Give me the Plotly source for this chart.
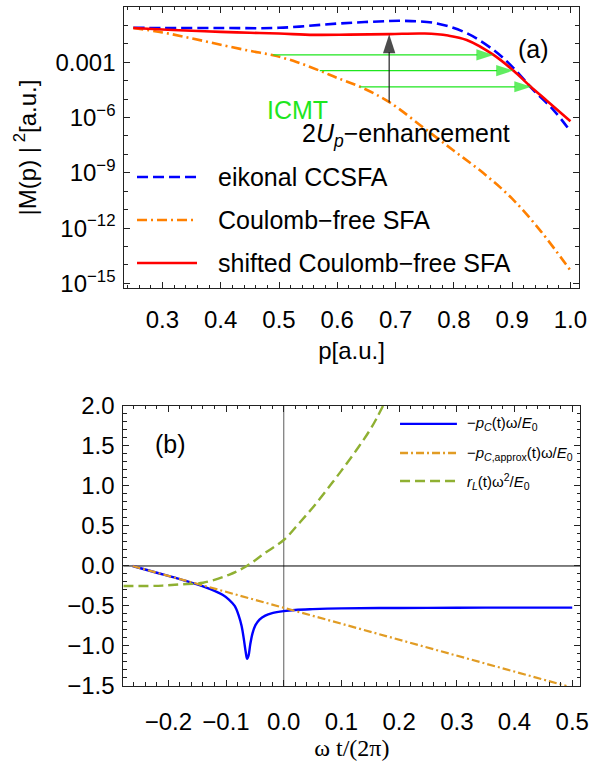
import plotly.graph_objects as go

# ---------------- Panel (a) data : p [a.u.] vs log10 |M(p)|^2 ----------------
p_eik = [0.25, 0.30, 0.40, 0.50, 0.60, 0.66, 0.713, 0.771, 0.822, 0.868, 0.902, 0.936, 0.971, 1.0]
lg_eik = [-1.13, -1.14, -1.14, -1.13, -0.90, -0.80, -0.75, -0.89, -1.42, -2.33, -3.30, -4.50, -5.59, -6.75]

p_sfa = [0.25, 0.30, 0.35, 0.40, 0.45, 0.49, 0.53, 0.57, 0.60, 0.64, 0.69, 0.75, 0.80, 0.85, 0.90, 0.95, 1.0]
lg_sfa = [-1.14, -1.38, -1.70, -2.05, -2.38, -2.62, -2.98, -3.46, -3.85, -4.34, -5.18, -6.60, -7.80, -9.00, -10.40, -12.20, -14.30]

p_shift = [0.25, 0.30, 0.35, 0.40, 0.45, 0.50, 0.56, 0.62, 0.69, 0.75, 0.79, 0.822, 0.868, 0.902, 0.931, 0.960, 1.0]
lg_shift = [-1.14, -1.22, -1.29, -1.35, -1.40, -1.44, -1.51, -1.50, -1.47, -1.44, -1.55, -1.79, -2.60, -3.45, -4.30, -5.10, -6.20]

# ICMT arrows (from Coulomb-free SFA to shifted SFA) and 2Up enhancement arrow
icmt_tail_p = [0.490, 0.570, 0.639]
icmt_tip_p = [0.868, 0.902, 0.933]
icmt_level = [-2.60, -3.45, -4.33]
enh_p = 0.689
enh_from = -5.18
enh_to = -1.48

ya_tickvals = [1, 1e-3, 1e-6, 1e-9, 1e-12, 1e-15]
ya_ticktext = ["1", "0.001", "10<sup>−6</sup>", "10<sup>−9</sup>", "10<sup>−12</sup>", "10<sup>−15</sup>"]
ya_minor = [10.0 ** (-k) for k in range(0, 16)]

# ---------------- Panel (b) data : omega t / (2 pi) ----------------
t_pc = [-0.262, -0.22, -0.18, -0.15, -0.12, -0.106, -0.095, -0.085, -0.078, -0.073, -0.069,
        -0.066, -0.0635, -0.061, -0.058, -0.054, -0.049, -0.042, -0.032, -0.02, 0.0, 0.02,
        0.05, 0.1, 0.2, 0.3, 0.4, 0.5]
pc = [0.0, -0.085, -0.165, -0.23, -0.31, -0.36, -0.42, -0.50, -0.62, -0.75, -0.92,
      -1.07, -1.16, -1.12, -0.98, -0.84, -0.74, -0.67, -0.62, -0.59, -0.565, -0.55,
      -0.54, -0.53, -0.525, -0.522, -0.52, -0.52]

t_approx = [-0.262, 0.0, 0.25, 0.49]
pc_approx = [0.0, -0.52, -1.02, -1.50]

t_rl = [-0.278, -0.24, -0.21, -0.18, -0.14, -0.095, -0.064, -0.033, 0.0, 0.0286, 0.056, 0.084, 0.107, 0.13, 0.152, 0.172]
rl = [-0.25, -0.25, -0.245, -0.23, -0.21, -0.11, 0.0, 0.16, 0.325, 0.55, 0.78, 1.04, 1.26, 1.49, 1.73, 2.0]

BLUE = "#0000ff"
RED = "#ff0000"
ORANGE = "#ff8000"
GREEN = "#1ee61e"
B_BLUE = "#0000ff"
B_ORANGE = "#e19c24"
B_GREEN = "#8fb032"
FONT = "Liberation Sans"

fig = go.Figure()

# panel (a)
fig.add_trace(go.Scatter(x=p_eik, y=[10 ** v for v in lg_eik], mode="lines", line_shape="spline",
                         line=dict(color=BLUE, width=2.6, dash="11px,5px"), name="eikonal CCSFA",
                         xaxis="x", yaxis="y"))
fig.add_trace(go.Scatter(x=p_sfa, y=[10 ** v for v in lg_sfa], mode="lines", line_shape="spline",
                         line=dict(color=ORANGE, width=2.6, dash="10px,4px,2px,4px"), name="Coulomb−free SFA",
                         xaxis="x", yaxis="y"))
fig.add_trace(go.Scatter(x=p_shift, y=[10 ** v for v in lg_shift], mode="lines", line_shape="spline",
                         line=dict(color=RED, width=2.6), name="shifted Coulomb−free SFA",
                         xaxis="x", yaxis="y"))
for a, b, lv in zip(icmt_tail_p, icmt_tip_p, icmt_level):
    fig.add_trace(go.Scatter(x=[a, b], y=[10 ** lv, 10 ** lv], mode="lines+markers",
                             line=dict(color=GREEN, width=1.2),
                             marker=dict(symbol=["circle", "arrow"], size=[0, 18], angleref="previous",
                                         color=GREEN, line=dict(width=0)),
                             xaxis="x", yaxis="y", hoverinfo="skip"))
fig.add_trace(go.Scatter(x=[enh_p, enh_p], y=[10 ** enh_from, 10 ** enh_to], mode="lines+markers",
                         line=dict(color="#222222", width=1.2),
                         marker=dict(symbol=["circle", "arrow"], size=[0, 20], angleref="previous",
                                     color="#000000", line=dict(width=0)),
                         xaxis="x", yaxis="y", hoverinfo="skip"))

# panel (b)
fig.add_trace(go.Scatter(x=t_pc, y=pc, mode="lines", line_shape="spline",
                         line=dict(color=B_BLUE, width=2.4), xaxis="x2", yaxis="y2"))
fig.add_trace(go.Scatter(x=t_approx, y=pc_approx, mode="lines",
                         line=dict(color=B_ORANGE, width=2.2, dash="8px,3px,2px,3px"), xaxis="x2", yaxis="y2"))
fig.add_trace(go.Scatter(x=t_rl, y=rl, mode="lines", line_shape="spline",
                         line=dict(color=B_GREEN, width=2.4, dash="10px,5px"), xaxis="x2", yaxis="y2"))

tickfont = dict(family=FONT, size=24, color="black")
common = dict(showline=True, linecolor="#222", linewidth=1, mirror="allticks", ticks="inside",
              tickcolor="#222", ticklen=6, showgrid=False, zeroline=False, tickfont=tickfont,
              automargin=False)

fig.update_layout(
    width=606, height=765, margin=dict(l=0, r=0, t=0, b=0, autoexpand=False), showlegend=False,
    paper_bgcolor="white", plot_bgcolor="white",
    xaxis=dict(domain=[0.2051, 0.9550], range=[0.2346, 1.0142], anchor="y",
               tickvals=[0.3, 0.4, 0.5, 0.6, 0.7, 0.8, 0.9, 1.0],
               ticktext=["0.3", "0.4", "0.5", "0.6", "0.7", "0.8", "0.9", "1.0"],
               minor=dict(dtick=0.02, tick0=0.2, ticks="inside", ticklen=3.5, tickcolor="#222"),
               ticklabelstandoff=10,
               title=dict(text="p[a.u.]", font=dict(family=FONT, size=24, color="black"), standoff=10),
               **common),
    yaxis=dict(domain=[0.6235, 0.99085], type="log", range=[-15.25, 0.0], anchor="x",
               tickvals=ya_tickvals, ticktext=ya_ticktext,
               minor=dict(tickvals=ya_minor, ticks="inside", ticklen=3.5, tickcolor="#222"),
               ticklabelstandoff=3,
               title=dict(text="|M(p) |<sup> 2</sup>[a.u.]", font=dict(family=FONT, size=24, color="black"),
                          standoff=12),
               **common),
    xaxis2=dict(domain=[0.2035, 0.9576], range=[-0.278, 0.514], anchor="y2",
                tickvals=[-0.2, -0.1, 0.0, 0.1, 0.2, 0.3, 0.4, 0.5],
                ticktext=["−0.2", "−0.1", "0.0", "0.1", "0.2", "0.3", "0.4", "0.5"],
                minor=dict(dtick=0.02, tick0=0.0, ticks="inside", ticklen=3.5, tickcolor="#222"),
                ticklabelstandoff=14,
                title=dict(text="ω t/(2π)", font=dict(family="Liberation Serif", size=24, color="black"),
                           standoff=4),
                **common),
    yaxis2=dict(domain=[0.1033, 0.4693], range=[-1.5, 2.0], anchor="x2",
                tickvals=[-1.5, -1.0, -0.5, 0.0, 0.5, 1.0, 1.5, 2.0],
                ticktext=["−1.5", "−1.0", "−0.5", "0.0", "0.5", "1.0", "1.5", "2.0"],
                minor=dict(dtick=0.1, tick0=0.0, ticks="inside", ticklen=3.5, tickcolor="#222"),
                ticklabelstandoff=3,
                **common),
)

# zero axes in panel (b)
fig.add_shape(type="line", xref="x2", yref="y2 domain", x0=0, x1=0, y0=0, y1=1,
              line=dict(color="#777777", width=1.2), layer="below")
fig.add_shape(type="line", xref="x2 domain", yref="y2", x0=0, x1=1, y0=0, y1=0,
              line=dict(color="black", width=1), layer="below")

# legend (a)
leg_a = [("eikonal CCSFA", BLUE, "11px,5px", 0.395),
         ("Coulomb−free SFA", ORANGE, "10px,4px,2px,4px", 0.242),
         ("shifted Coulomb−free SFA", RED, "solid", 0.089)]
for txt, col, dash, yy in leg_a:
    fig.add_shape(type="line", xref="x domain", yref="y domain", x0=0.028, x1=0.160, y0=yy, y1=yy,
                  line=dict(color=col, width=2.6, dash=dash))
    fig.add_annotation(xref="x domain", yref="y domain", x=0.2017, y=yy, text=txt, showarrow=False,
                       xanchor="left", yanchor="middle", font=dict(family=FONT, size=25, color="black"))

# legend (b)
leg_b = [("−<i>p</i><sub><i>C</i></sub>(t)ω/<i>E</i><sub>0</sub>", B_BLUE, "solid", 0.936),
         ("−<i>p</i><sub><i>C</i>,approx</sub>(t)ω/<i>E</i><sub>0</sub>", B_ORANGE, "8px,3px,2px,3px", 0.832),
         ("<i>r</i><sub><i>L</i></sub>(t)ω<sup>2</sup>/<i>E</i><sub>0</sub>", B_GREEN, "10px,5px", 0.732)]
for txt, col, dash, yy in leg_b:
    fig.add_shape(type="line", xref="x2 domain", yref="y2 domain", x0=0.6055, x1=0.730, y0=yy, y1=yy,
                  line=dict(color=col, width=2.4, dash=dash))
    fig.add_annotation(xref="x2 domain", yref="y2 domain", x=0.7475, y=yy, text=txt, showarrow=False,
                       xanchor="left", yanchor="middle", font=dict(family=FONT, size=15, color="black"))

# panel labels and texts
fig.add_annotation(xref="x domain", yref="y domain", x=0.939, y=0.907, text="(a)", showarrow=False,
                   font=dict(family=FONT, size=25, color="black"))
fig.add_annotation(xref="x2 domain", yref="y2 domain", x=0.065, y=0.921, text="(b)", showarrow=False,
                   font=dict(family=FONT, size=25, color="black"))
fig.add_annotation(xref="x domain", yref="y domain", x=0.31, y=0.69, text="ICMT", showarrow=False,
                   font=dict(family=FONT, size=25, color=GREEN))
fig.add_annotation(xref="x domain", yref="y domain", x=0.62, y=0.5445,
                   text="2<i>U</i><sub><i>p</i></sub>−enhancement", showarrow=False,
                   font=dict(family=FONT, size=25, color="black"))

fig.write_html("out.html")
